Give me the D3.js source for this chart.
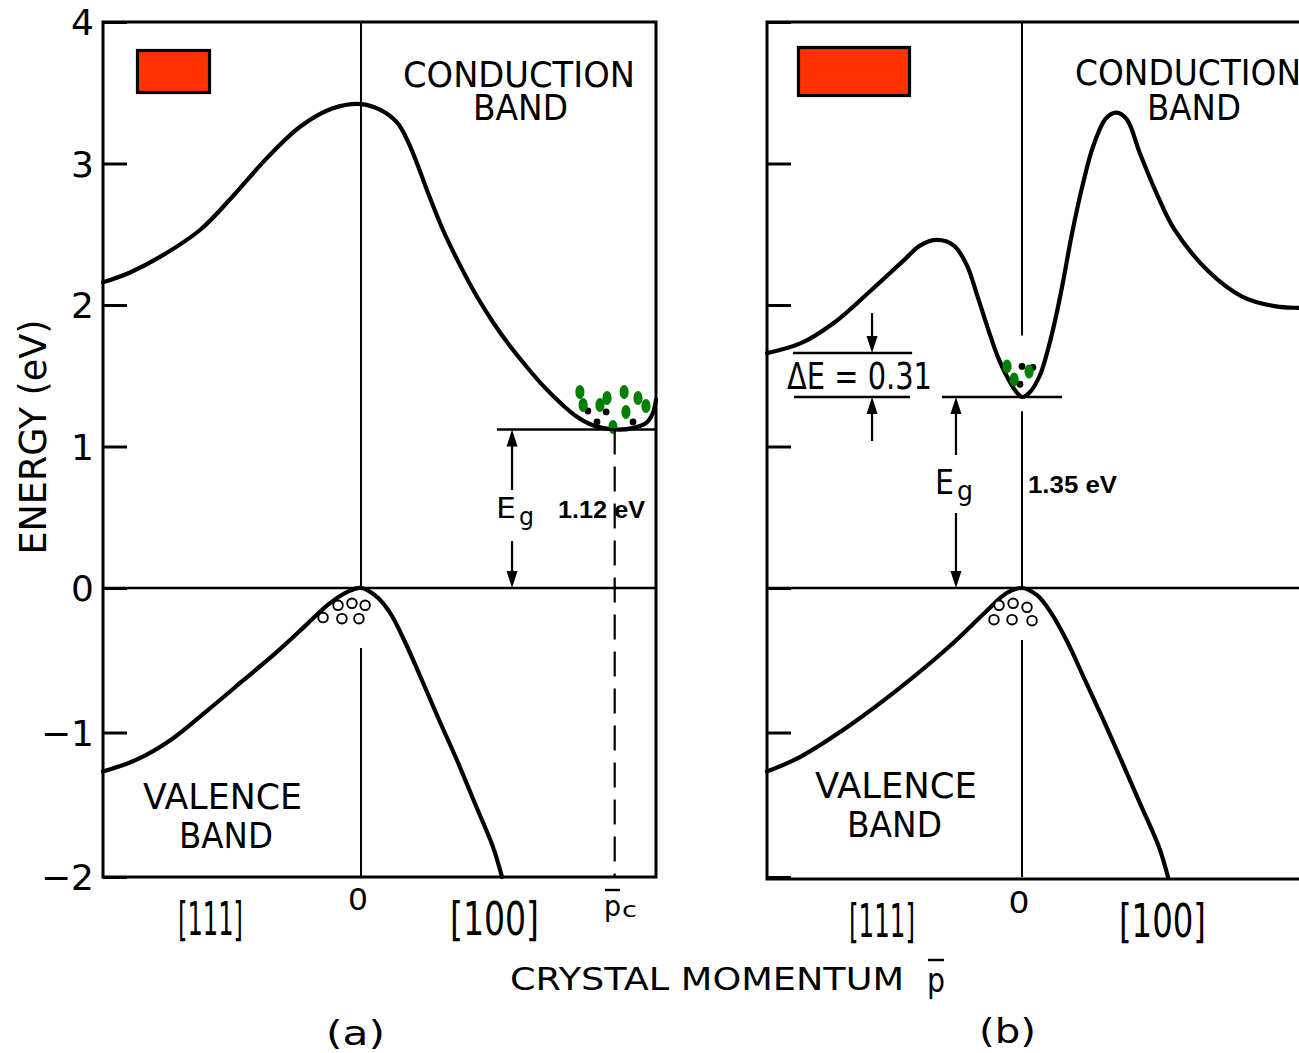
<!DOCTYPE html>
<html>
<head>
<meta charset="utf-8">
<script src="https://cdn.jsdelivr.net/npm/d3@7"></script>
<style>
  body { margin: 0; background: #fff; }
  svg { display: block; }
</style>
</head>
<body>
<svg id="chart" width="1299" height="1053"></svg>
<script>
// Energy-band diagrams of Si (a) and GaAs (b): energy in eV against crystal momentum.
// Momentum is a fraction of the zone edge: -1 = L point along [111], 0 = Γ, +1 = X point along [100].

const energyTicks = [-2, -1, 0, 1, 2, 3, 4];
const energyTickLabels = ["\u22122", "\u22121", "0", "1", "2", "3", "4"];
const directionLabels = ["[111]", "0", "[100]"];

// Si conduction band [k, E]
const siConduction = [
  [-1, 2.16], [-0.895, 2.23], [-0.779, 2.34], [-0.624, 2.53], [-0.496, 2.77],
  [-0.364, 3.04], [-0.236, 3.26], [-0.109, 3.39], [0, 3.42],
  [0.064, 3.38], [0.122, 3.29], [0.156, 3.17], [0.19, 3.00], [0.224, 2.81],
  [0.278, 2.53], [0.336, 2.28], [0.393, 2.06], [0.447, 1.88], [0.505, 1.71],
  [0.563, 1.56], [0.617, 1.43], [0.675, 1.31], [0.732, 1.21], [0.786, 1.15],
  [0.86, 1.12], [0.922, 1.13], [0.969, 1.17], [0.99, 1.24], [1.0, 1.33]
];
// Si valence band
const siValence = [
  [-1, -1.27], [-0.872, -1.19], [-0.736, -1.05], [-0.597, -0.85], [-0.457, -0.64],
  [-0.318, -0.43], [-0.209, -0.25], [-0.124, -0.11], [-0.05, -0.025], [0, 0],
  [0.047, -0.05], [0.098, -0.17], [0.146, -0.36], [0.207, -0.64], [0.264, -0.91],
  [0.325, -1.19], [0.386, -1.49], [0.447, -1.79], [0.478, -2.0]
];
// GaAs conduction band
const gaasConduction = [
  [-1, 1.66], [-0.867, 1.73], [-0.733, 1.88], [-0.6, 2.09], [-0.467, 2.31],
  [-0.4, 2.42], [-0.333, 2.46], [-0.267, 2.42], [-0.216, 2.28], [-0.176, 2.07],
  [-0.133, 1.83], [-0.094, 1.63], [-0.055, 1.48], [-0.02, 1.38], [0, 1.35],
  [0.025, 1.38], [0.06, 1.50], [0.102, 1.80], [0.136, 2.13], [0.169, 2.50],
  [0.207, 2.86], [0.241, 3.12], [0.285, 3.32], [0.322, 3.36], [0.356, 3.31],
  [0.4, 3.07], [0.458, 2.78], [0.515, 2.54], [0.631, 2.24], [0.746, 2.06],
  [0.861, 1.99], [0.939, 1.98], [1, 1.98]
];
// GaAs valence band
const gaasValence = [
  [-1, -1.27], [-0.871, -1.17], [-0.675, -0.95], [-0.478, -0.69], [-0.282, -0.40],
  [-0.145, -0.17], [-0.06, -0.035], [0, 0],
  [0.051, -0.05], [0.098, -0.17], [0.153, -0.37], [0.214, -0.64], [0.275, -0.91],
  [0.336, -1.19], [0.4, -1.49], [0.464, -1.79], [0.495, -2.0]
];

const siGap = 1.12;            // eV
const gaasGap = 1.35;          // eV
const gaasValleySplit = 0.31;  // eV, L valley above Γ valley
const siValleyMomentum = 0.86; // p_c

// carriers: electrons (green / black) in the conduction minimum, holes at the valence maximum
const siElectronsGreen = [[0.742, 1.385], [0.753, 1.293], [0.81, 1.293], [0.834, 1.343], [0.892, 1.385],
  [0.939, 1.343], [0.966, 1.286], [0.898, 1.244], [0.854, 1.138]];
const siElectronsBlack = [[0.769, 1.251], [0.831, 1.244], [0.8, 1.173], [0.922, 1.173]];
const siHoles = [[-0.089, -0.12], [-0.035, -0.106], [0.014, -0.12], [-0.147, -0.205], [-0.074, -0.212], [-0.008, -0.212]];
const gaasElectronsGreen = [[-0.059, 1.566], [-0.031, 1.474], [0.024, 1.53]];
const gaasElectronsBlack = [[0, 1.566], [0.037, 1.559], [-0.008, 1.44]];
const gaasHoles = [[-0.09, -0.12], [-0.035, -0.106], [0.017, -0.134], [-0.11, -0.219], [-0.039, -0.219], [0.034, -0.226]];

const FONT = "'DejaVu Sans', 'Liberation Sans', sans-serif";
const svg = d3.select("#chart");

const y = d3.scaleLinear().domain([-2, 0, 4]).range([877, 588, 22]);
const xA = d3.scaleLinear().domain([-1, 0, 1]).range([103, 361, 656]);
const xB = d3.scaleLinear().domain([-1, 0, 1]).range([767, 1022, 1317]);

function label(g, txt, x, yy, size, len, anchor, extra) {
  const t = g.append("text")
    .attr("x", x).attr("y", yy)
    .attr("font-family", FONT).attr("font-size", size)
    .attr("text-anchor", anchor || "start")
    .attr("fill", "#000")
    .text(txt);
  if (len) t.attr("textLength", len).attr("lengthAdjust", "spacingAndGlyphs");
  if (extra) extra(t);
  return t;
}

function arrow(g, x, yFrom, yTip) {
  // line from yFrom to yTip with a filled head at yTip
  const dir = yTip > yFrom ? 1 : -1;
  const headLen = 17, headHalf = 5.5;
  g.append("line").attr("x1", x).attr("x2", x).attr("y1", yFrom).attr("y2", yTip - dir * headLen + dir * 2)
    .attr("stroke", "#000").attr("stroke-width", 2.2);
  g.append("path")
    .attr("d", `M${x},${yTip} L${x - headHalf},${yTip - dir * headLen} L${x + headHalf},${yTip - dir * headLen} Z`)
    .attr("fill", "#000");
}

function hline(g, x1, x2, yy, w) {
  g.append("line").attr("x1", x1).attr("x2", x2).attr("y1", yy).attr("y2", yy)
    .attr("stroke", "#000").attr("stroke-width", w || 2.5);
}
function vline(g, xx, y1, y2, w, dash) {
  const l = g.append("line").attr("x1", xx).attr("x2", xx).attr("y1", y1).attr("y2", y2)
    .attr("stroke", "#000").attr("stroke-width", w || 2);
  if (dash) l.attr("stroke-dasharray", dash);
}

function drawPanel(x, opts) {
  const g = svg.append("g");
  // energy axis ticks (inside the frame)
  const axis = d3.axisLeft(y).tickValues(energyTicks).tickSize(-24).tickPadding(9)
    .tickFormat((d, i) => opts.tickLabels ? energyTickLabels[i] : "");
  const ax = g.append("g").attr("transform", `translate(${x(-1)},0)`).call(axis);
  ax.select(".domain").remove();
  ax.selectAll(".tick line").attr("stroke", "#000").attr("stroke-width", 3);
  ax.selectAll(".tick text").attr("font-family", FONT).attr("font-size", 36).attr("fill", "#000").attr("dy", "0.36em");

  // frame
  g.append("rect").attr("x", x(-1)).attr("y", y(4)).attr("width", x(1) - x(-1)).attr("height", opts.bottom - y(4))
    .attr("fill", "none").attr("stroke", "#000").attr("stroke-width", 3);

  // E = 0 line
  hline(g, x(-1), Math.min(x(1), 1299), y(0), 2.5);

  // Γ line, broken around the carriers
  opts.centerSegments.forEach(([e1, e2]) => vline(g, x(0), y(e1), y(e2), 2));

  const line = d3.line().x(d => x(d[0])).y(d => y(d[1])).curve(d3.curveCatmullRom.alpha(0.5));
  [opts.cb, opts.vb].forEach(data => {
    g.append("path").datum(data).attr("d", line)
      .attr("fill", "none").attr("stroke", "#000").attr("stroke-width", 4.2)
      .attr("stroke-linejoin", "round").attr("stroke-linecap", "round");
  });

  // holes
  g.selectAll(null).data(opts.holes).join("circle")
    .attr("cx", d => x(d[0])).attr("cy", d => y(d[1])).attr("r", 4.8)
    .attr("fill", "#fff").attr("stroke", "#000").attr("stroke-width", 1.9);
  // electrons
  g.selectAll(null).data(opts.black).join("circle")
    .attr("cx", d => x(d[0])).attr("cy", d => y(d[1])).attr("r", 3.4).attr("fill", "#000");
  g.selectAll(null).data(opts.green).join("ellipse")
    .attr("cx", d => x(d[0])).attr("cy", d => y(d[1])).attr("rx", 4.6).attr("ry", 7)
    .attr("fill", "#008000");

  // red marker box
  g.append("rect").attr("x", opts.box[0]).attr("y", opts.box[1]).attr("width", opts.box[2]).attr("height", opts.box[3])
    .attr("fill", "#ff3300").attr("stroke", "#000").attr("stroke-width", 3.2);
  return g;
}

// ---------- panel (a): Si ----------
const gA = drawPanel(xA, {
  tickLabels: true, bottom: 877,
  centerSegments: [[4, 0], [-0.415, -2]],
  cb: siConduction, vb: siValence,
  holes: siHoles, black: siElectronsBlack, green: siElectronsGreen,
  box: [137.5, 50.5, 72, 42]
});
// band gap reference and p_c marker
hline(gA, xA(0.461), xA(1), y(siGap), 2.5);
vline(gA, xA(siValleyMomentum), y(siGap), y(-2), 2.2, "25,12");
arrow(gA, xA(0.512), 490, y(siGap));
arrow(gA, xA(0.512), 541, y(0));
label(gA, "E", 496, 518, 29, 20);
label(gA, "g", 519, 525, 25, 15);
label(gA, "1.12 eV", 558, 518, 24, 87, "start", t => t.attr("font-family", "'Liberation Sans', Arial, sans-serif").attr("font-weight", "bold"));

label(gA, "CONDUCTION", 403, 87, 36, 232);
label(gA, "BAND", 473, 120, 36, 95);
label(gA, "VALENCE", 143, 809, 36, 159);
label(gA, "BAND", 179, 848, 36, 94);

label(gA, directionLabels[0], 210.5, 935, 46, 65, "middle");
label(gA, directionLabels[1], 358, 910, 31, 20, "middle");
label(gA, directionLabels[2], 494.5, 935, 46, 89, "middle");
// p̄c
const pc = label(gA, "p", 604, 916, 28, 17);
label(gA, "c", 622, 917, 22, 15);
{
  const b = pc.node().getBBox();
  hline(gA, b.x + 1, b.x + b.width - 1, 890, 2.4);
}

// ---------- panel (b): GaAs ----------
const gB = drawPanel(xB, {
  tickLabels: false, bottom: 879,
  centerSegments: [[4, 1.785], [1.25, 0], [-0.36, -2]],
  cb: gaasConduction, vb: gaasValence,
  holes: gaasHoles, black: gaasElectronsBlack, green: gaasElectronsGreen,
  box: [798.5, 47.5, 111, 48]
});
const yL = y(gaasGap + gaasValleySplit), yG = y(gaasGap);
hline(gB, xB(-0.898), xB(-0.431), yL, 2.5);
hline(gB, xB(-0.894), xB(-0.439), yG, 2.5);
hline(gB, xB(-0.314), xB(0.136), yG, 2.5);
arrow(gB, xB(-0.588), yL - 40, yL);
arrow(gB, xB(-0.588), yG + 44, yG);
label(gB, "\u0394E = 0.31", 787, (yL + yG) / 2 + 14, 38, 145);
arrow(gB, xB(-0.259), 455, yG);
arrow(gB, xB(-0.259), 513, y(0));
label(gB, "E", 935, 494, 34, 19);
label(gB, "g", 957, 500, 27, 16);
label(gB, "1.35 eV", 1028, 493, 24, 89, "start", t => t.attr("font-family", "'Liberation Sans', Arial, sans-serif").attr("font-weight", "bold"));

label(gB, "CONDUCTION", 1075, 85, 36, 226);
label(gB, "BAND", 1147, 120, 36, 94);
label(gB, "VALENCE", 815, 798, 36, 162);
label(gB, "BAND", 847, 837, 36, 95);

label(gB, directionLabels[0], 882, 937, 46, 66, "middle");
label(gB, directionLabels[1], 1019, 913, 31, 21, "middle");
label(gB, directionLabels[2], 1162.5, 937, 46, 87, "middle");

// ---------- shared labels ----------
label(svg, "ENERGY (eV)", 0, 0, 37, 235, "middle", t => t.attr("transform", "translate(46,437) rotate(-90)"));
label(svg, "CRYSTAL MOMENTUM", 510, 990, 32, 394);
const pm = label(svg, "p", 927, 992, 34, 18);
{
  const b = pm.node().getBBox();
  hline(svg, b.x + 1, b.x + b.width - 1, 960, 2.4);
}
label(svg, "(a)", 355.5, 1045, 33, 59, "middle");
label(svg, "(b)", 1007.5, 1043, 33, 57, "middle");
</script>
</body>
</html>
